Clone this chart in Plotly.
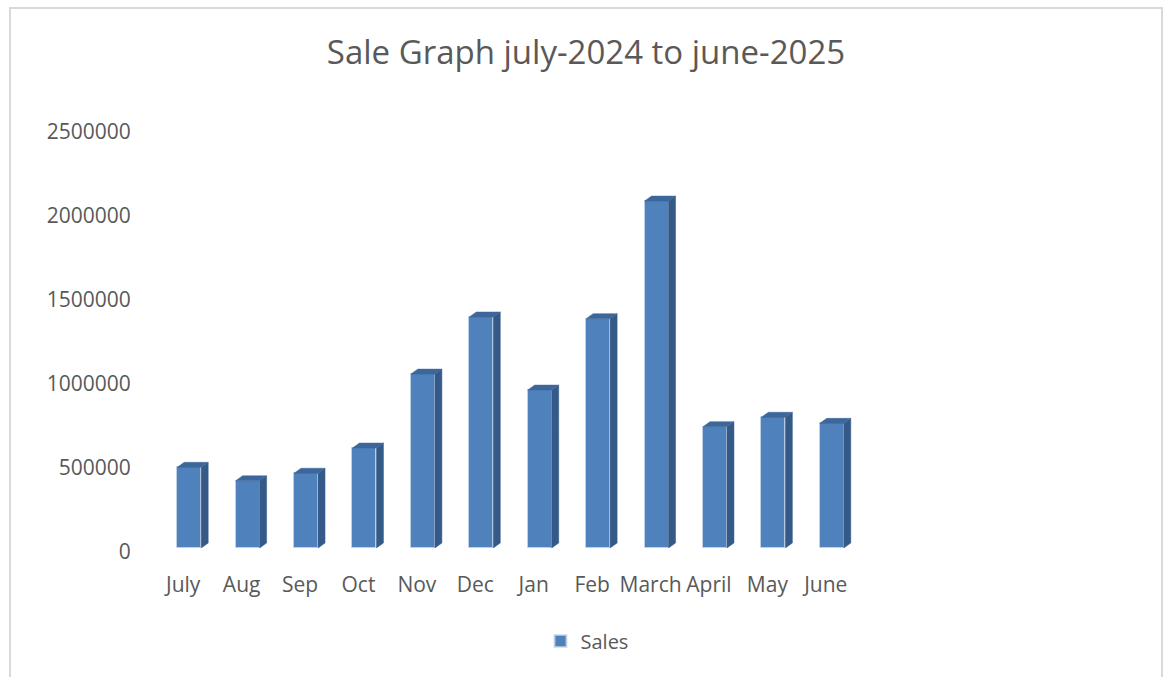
import plotly.graph_objects as go

# Monthly sales, July 2024 - June 2025
months = ["July", "Aug", "Sep", "Oct", "Nov", "Dec", "Jan", "Feb", "March", "April", "May", "June"]
sales = [480000, 400000, 445000, 595000, 1035000, 1375000, 940000, 1365000, 2065000, 722000, 778000, 742000]
y_ticks = [0, 500000, 1000000, 1500000, 2000000, 2500000]

W, H = 1165, 677
FONT = "Open Sans"
GREY = "#595959"

# plot area in page pixels
px_left, px_right = 154, 855
px_bottom, px_top = 548, 128
y_max = 2500000

x_unit = (px_right - px_left) / len(months)      # pixels per category
y_unit = (px_bottom - px_top) / y_max            # pixels per unit of sales

bar_width = 24 / x_unit
bar_offset = -bar_width / 2 + 6 / x_unit
depth_x = 7 / x_unit
depth_y = 5 / y_unit

fig = go.Figure()

# front faces
fig.add_trace(go.Bar(
    x=list(range(len(months))),
    y=sales,
    width=bar_width,
    offset=bar_offset,
    name="Sales",
    marker=dict(color="#4F81BD", line=dict(color="rgba(200,215,235,0.7)", width=1)),
))

# side and top faces to fake the 3D look
side_x, side_y, top_x, top_y = [], [], [], []
for i, v in enumerate(sales):
    xl = i + bar_offset
    xr = xl + bar_width
    side_x += [xr, xr + depth_x, xr + depth_x, xr, xr, None]
    side_y += [0, depth_y, v + depth_y, v, 0, None]
    top_x += [xl, xl + depth_x, xr + depth_x, xr, xl, None]
    top_y += [v, v + depth_y, v + depth_y, v, v, None]

fig.add_trace(go.Scatter(
    x=side_x, y=side_y, mode="lines", fill="toself",
    fillcolor="#355A88", line=dict(width=0.5, color="#355A88"),
    showlegend=False, hoverinfo="skip",
))
fig.add_trace(go.Scatter(
    x=top_x, y=top_y, mode="lines", fill="toself",
    fillcolor="#3D679B", line=dict(width=0.5, color="#3D679B"),
    showlegend=False, hoverinfo="skip",
))

fig.update_layout(
    width=W,
    height=H,
    margin=dict(l=0, r=0, t=0, b=0),
    paper_bgcolor="white",
    plot_bgcolor="white",
    font=dict(family=FONT, color=GREY),
    title=dict(
        text="Sale Graph july-2024 to june-2025",
        x=586 / W, xanchor="center",
        y=1 - 52 / H, yanchor="middle",
        font=dict(size=33, color=GREY, family=FONT),
    ),
    showlegend=True,
    legend=dict(
        orientation="h",
        x=587 / W, xanchor="center",
        y=1 - 641 / H, yanchor="middle",
        font=dict(size=20, color=GREY),
        itemsizing="constant",
    ),
    xaxis=dict(
        domain=[px_left / W, px_right / W],
        range=[-0.5, len(months) - 0.5],
        tickvals=list(range(len(months))),
        ticktext=months,
        showgrid=False, zeroline=False, showline=False,
        ticks="outside", ticklen=18, tickcolor="rgba(0,0,0,0)",
        tickfont=dict(size=21, color=GREY),
        automargin=False,
    ),
    yaxis=dict(
        domain=[1 - px_bottom / H, 1 - px_top / H],
        range=[0, y_max],
        tickvals=y_ticks,
        ticktext=[str(t) for t in y_ticks],
        showgrid=False, zeroline=False, showline=False,
        ticks="outside", ticklen=18, tickcolor="rgba(0,0,0,0)",
        ticklabelshift=4,
        tickfont=dict(size=21, color=GREY),
        automargin=False,
    ),
    bargap=0,
)

# chart border (bottom edge runs off the page, as in the source)
fig.add_shape(
    type="rect", xref="paper", yref="paper",
    x0=10 / W, x1=1162 / W, y0=-0.05, y1=1 - 8 / H,
    line=dict(color="#D9D9D9", width=2),
)

# drop the default body margin so the figure sits at the page corner
fig.write_html(
    "out.html",
    config={"displayModeBar": False},
    post_script="document.body.style.margin = '0';",
)
